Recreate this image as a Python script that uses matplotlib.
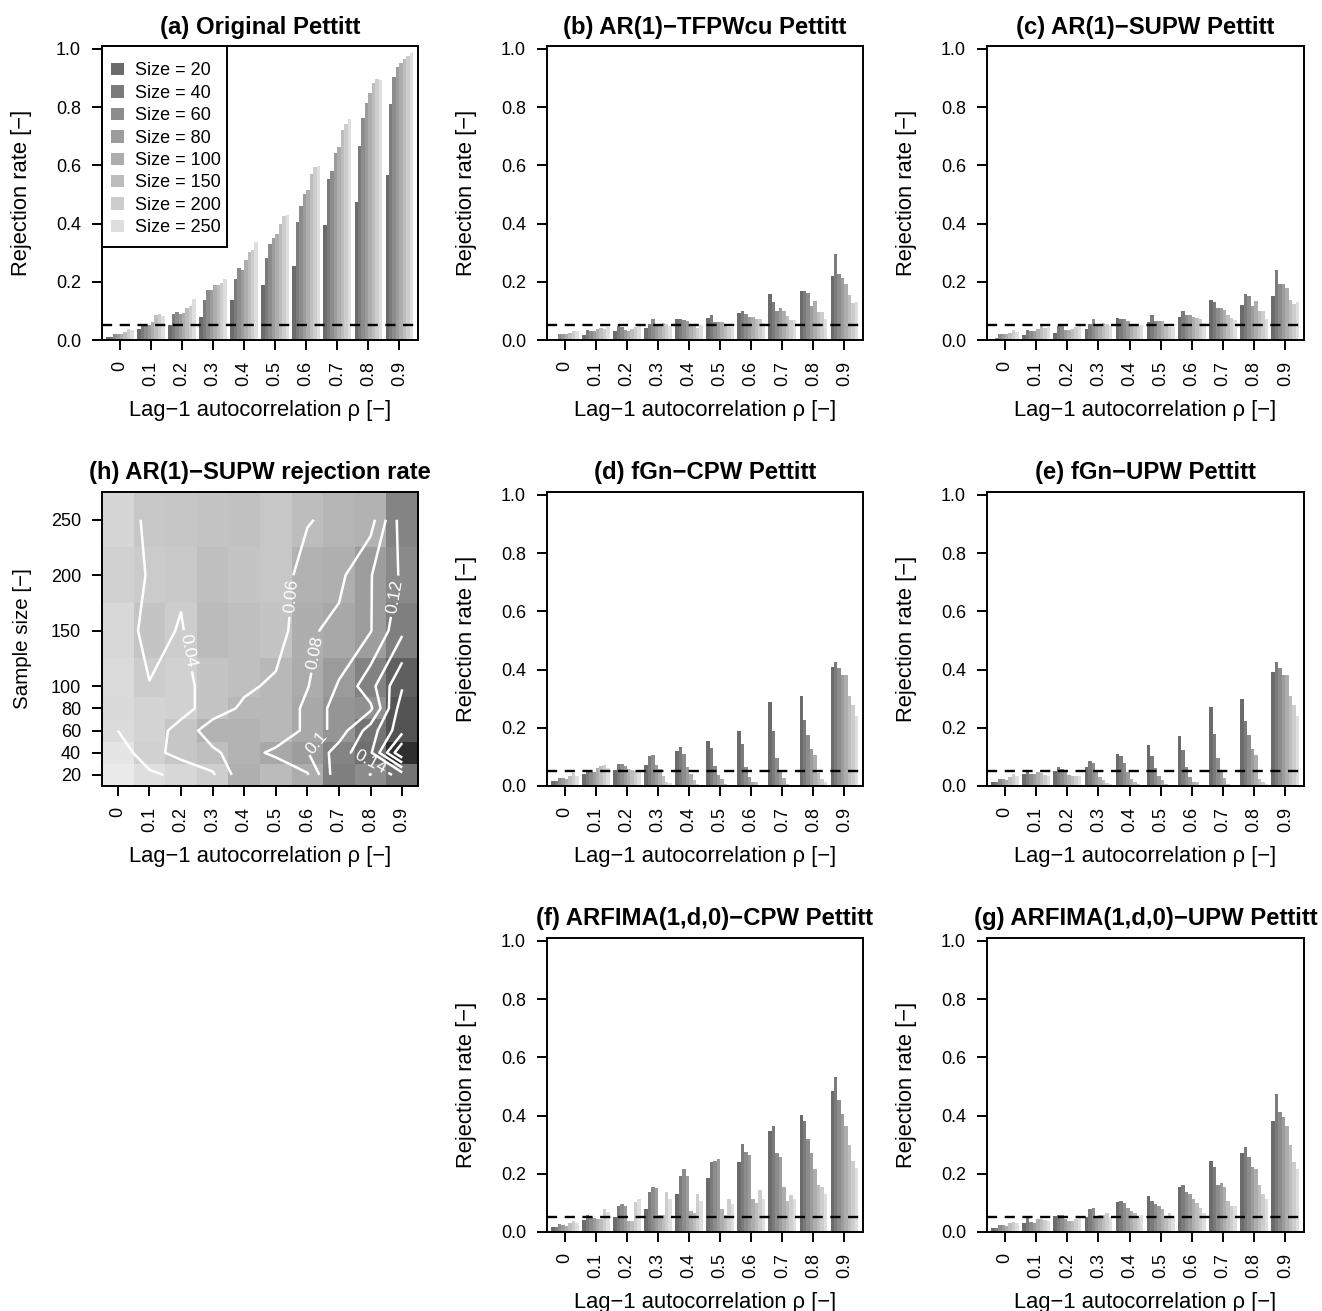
import numpy as np
import matplotlib
matplotlib.use("Agg")
import matplotlib.pyplot as plt
from matplotlib.patches import Patch, Rectangle
from matplotlib.colors import LinearSegmentedColormap

plt.rcParams['font.family'] = ['Liberation Sans', 'DejaVu Sans']

# ---------------- data ----------------
rho_values = [0.0, 0.1, 0.2, 0.3, 0.4, 0.5, 0.6, 0.7, 0.8, 0.9]
rho_labels = ["0", "0.1", "0.2", "0.3", "0.4", "0.5", "0.6", "0.7", "0.8", "0.9"]
sample_sizes = [20, 40, 60, 80, 100, 150, 200, 250]
size_labels = ["Size = %d" % s for s in sample_sizes]
y_ticks = [0.0, 0.2, 0.4, 0.6, 0.8, 1.0]
y_ticklabels = ["0.0", "0.2", "0.4", "0.6", "0.8", "1.0"]
alpha_level = 0.05
labeled_levels = [0.04, 0.06, 0.08, 0.10, 0.12, 0.14]
other_levels = [0.02, 0.16, 0.18, 0.20, 0.22]

# rejection rates: one row per rho, one column per sample size
orig_pettitt = [
    [0.012, 0.012, 0.022, 0.022, 0.022, 0.028, 0.038, 0.034],
    [0.037, 0.052, 0.050, 0.050, 0.062, 0.085, 0.090, 0.081],
    [0.052, 0.088, 0.096, 0.090, 0.093, 0.110, 0.116, 0.142],
    [0.079, 0.139, 0.171, 0.172, 0.188, 0.190, 0.197, 0.211],
    [0.136, 0.209, 0.249, 0.240, 0.276, 0.303, 0.308, 0.335],
    [0.188, 0.282, 0.331, 0.352, 0.364, 0.397, 0.427, 0.429],
    [0.253, 0.405, 0.460, 0.501, 0.515, 0.569, 0.595, 0.597],
    [0.394, 0.552, 0.580, 0.641, 0.664, 0.721, 0.741, 0.758],
    [0.474, 0.666, 0.761, 0.815, 0.847, 0.882, 0.896, 0.893],
    [0.566, 0.811, 0.903, 0.937, 0.953, 0.964, 0.976, 0.985],
]
ar1_tfpwcu = [
    [0.002, 0.005, 0.020, 0.022, 0.020, 0.024, 0.030, 0.030],
    [0.016, 0.033, 0.030, 0.030, 0.039, 0.041, 0.039, 0.045],
    [0.030, 0.047, 0.043, 0.036, 0.031, 0.039, 0.045, 0.047],
    [0.041, 0.056, 0.071, 0.049, 0.053, 0.060, 0.056, 0.049],
    [0.071, 0.071, 0.068, 0.064, 0.056, 0.056, 0.041, 0.053],
    [0.076, 0.085, 0.061, 0.061, 0.061, 0.049, 0.045, 0.045],
    [0.093, 0.099, 0.088, 0.079, 0.079, 0.071, 0.071, 0.057],
    [0.157, 0.130, 0.099, 0.109, 0.099, 0.081, 0.068, 0.068],
    [0.167, 0.167, 0.161, 0.116, 0.133, 0.095, 0.095, 0.072],
    [0.219, 0.295, 0.226, 0.212, 0.192, 0.154, 0.127, 0.130],
]
ar1_supw = [
    [0.001, 0.008, 0.020, 0.022, 0.020, 0.024, 0.033, 0.027],
    [0.016, 0.033, 0.030, 0.030, 0.039, 0.049, 0.041, 0.045],
    [0.025, 0.047, 0.047, 0.033, 0.033, 0.038, 0.044, 0.047],
    [0.037, 0.056, 0.071, 0.049, 0.049, 0.060, 0.056, 0.049],
    [0.075, 0.071, 0.071, 0.064, 0.056, 0.056, 0.049, 0.053],
    [0.061, 0.085, 0.064, 0.064, 0.064, 0.049, 0.045, 0.045],
    [0.078, 0.099, 0.085, 0.085, 0.079, 0.077, 0.072, 0.058],
    [0.136, 0.130, 0.109, 0.109, 0.102, 0.085, 0.075, 0.068],
    [0.119, 0.157, 0.150, 0.116, 0.133, 0.099, 0.099, 0.072],
    [0.150, 0.240, 0.194, 0.192, 0.178, 0.136, 0.123, 0.130],
]
fgn_cpw = [
    [0.017, 0.017, 0.027, 0.027, 0.023, 0.035, 0.046, 0.035],
    [0.041, 0.055, 0.049, 0.049, 0.061, 0.070, 0.072, 0.063],
    [0.055, 0.075, 0.075, 0.069, 0.057, 0.055, 0.051, 0.051],
    [0.072, 0.103, 0.106, 0.072, 0.058, 0.035, 0.015, 0.011],
    [0.120, 0.134, 0.110, 0.065, 0.042, 0.021, 0.008, 0.002],
    [0.154, 0.130, 0.069, 0.038, 0.024, 0.006, 0.001, 0.000],
    [0.189, 0.144, 0.065, 0.031, 0.014, 0.014, 0.001, 0.000],
    [0.288, 0.189, 0.096, 0.048, 0.027, 0.007, 0.000, 0.000],
    [0.309, 0.226, 0.175, 0.127, 0.106, 0.045, 0.024, 0.014],
    [0.408, 0.425, 0.405, 0.381, 0.381, 0.309, 0.278, 0.240],
]
fgn_upw = [
    [0.013, 0.013, 0.024, 0.024, 0.021, 0.030, 0.041, 0.034],
    [0.041, 0.051, 0.041, 0.041, 0.047, 0.045, 0.038, 0.035],
    [0.053, 0.065, 0.058, 0.048, 0.038, 0.034, 0.034, 0.035],
    [0.066, 0.086, 0.079, 0.051, 0.031, 0.021, 0.011, 0.007],
    [0.110, 0.103, 0.079, 0.048, 0.024, 0.013, 0.007, 0.001],
    [0.141, 0.103, 0.062, 0.034, 0.021, 0.007, 0.001, 0.000],
    [0.171, 0.123, 0.065, 0.031, 0.014, 0.014, 0.002, 0.000],
    [0.271, 0.178, 0.096, 0.048, 0.027, 0.007, 0.000, 0.000],
    [0.298, 0.223, 0.175, 0.127, 0.106, 0.024, 0.014, 0.007],
    [0.391, 0.425, 0.405, 0.381, 0.381, 0.309, 0.278, 0.240],
]
arfima_cpw = [
    [0.016, 0.016, 0.026, 0.023, 0.021, 0.030, 0.037, 0.030],
    [0.040, 0.057, 0.050, 0.047, 0.043, 0.043, 0.078, 0.067],
    [0.050, 0.088, 0.095, 0.088, 0.037, 0.037, 0.102, 0.115],
    [0.078, 0.139, 0.156, 0.150, 0.057, 0.060, 0.139, 0.115],
    [0.132, 0.194, 0.215, 0.191, 0.071, 0.064, 0.129, 0.105],
    [0.184, 0.239, 0.245, 0.252, 0.078, 0.057, 0.115, 0.095],
    [0.239, 0.304, 0.276, 0.266, 0.115, 0.098, 0.143, 0.115],
    [0.348, 0.365, 0.273, 0.259, 0.156, 0.108, 0.126, 0.112],
    [0.403, 0.382, 0.321, 0.273, 0.215, 0.163, 0.156, 0.129],
    [0.485, 0.533, 0.454, 0.406, 0.365, 0.300, 0.245, 0.221],
]
arfima_upw = [
    [0.013, 0.013, 0.023, 0.023, 0.019, 0.030, 0.033, 0.030],
    [0.030, 0.047, 0.033, 0.030, 0.043, 0.043, 0.040, 0.037],
    [0.054, 0.057, 0.057, 0.043, 0.037, 0.037, 0.043, 0.050],
    [0.050, 0.078, 0.081, 0.050, 0.057, 0.060, 0.064, 0.050],
    [0.102, 0.108, 0.098, 0.081, 0.071, 0.064, 0.050, 0.060],
    [0.122, 0.108, 0.095, 0.088, 0.078, 0.050, 0.064, 0.050],
    [0.153, 0.160, 0.136, 0.132, 0.115, 0.098, 0.081, 0.064],
    [0.245, 0.225, 0.163, 0.170, 0.156, 0.108, 0.091, 0.088],
    [0.273, 0.293, 0.256, 0.225, 0.215, 0.163, 0.132, 0.115],
    [0.382, 0.475, 0.413, 0.396, 0.365, 0.300, 0.239, 0.218],
]

# ---------------- style ----------------
W, H = 1322, 1311
fig = plt.figure(figsize=(W / 100, H / 100), dpi=100)
bar_grays = [str(v) for v in np.linspace(0.42, 0.87, len(sample_sizes))]
TICK_FS = 13
LAB_FS = 15.8
TITLE_FS = 17.2
XLABEL = "Lag\u22121 autocorrelation \u03c1 [\u2212]"


def add_ax(left, top, right, bottom):
    return fig.add_axes([left / W, 1 - bottom / H, (right - left) / W, (bottom - top) / H])


def style_axes(ax):
    for s in ax.spines.values():
        s.set_linewidth(1.4)
    ax.tick_params(direction='out', length=7.2, width=1.4, labelsize=TICK_FS, pad=8)


def bar_panel(ax, data, title, legend=False):
    data = np.asarray(data)
    n_g, n_s = data.shape
    step = n_s + 1
    for i in range(n_s):
        xs = np.arange(n_g) * step + i + 0.5
        ax.bar(xs, data[:, i], width=1.0, color=bar_grays[i], edgecolor='none',
               linewidth=0, label=size_labels[i])
    centers = np.arange(n_g) * step + n_s / 2
    ax.set_xlim(-1.2, (n_g - 1) * step + n_s + 1.4)
    ax.set_ylim(0, 1.01)
    ax.axhline(alpha_level, color='black', lw=1.7, ls=(0, (4.3, 3.2)))
    ax.set_xticks(centers)
    ax.set_xticklabels(rho_labels, rotation=90)
    ax.set_yticks(y_ticks)
    ax.set_yticklabels(y_ticklabels)
    style_axes(ax)
    ax.set_title(title, fontsize=TITLE_FS, fontweight='bold', pad=9)
    ax.set_ylabel("Rejection rate [\u2212]", fontsize=LAB_FS)
    ax.set_xlabel(XLABEL, fontsize=LAB_FS)
    ax.yaxis.set_label_coords(-0.22, 0.5)
    ax.xaxis.set_label_coords(0.5, -0.205)
    if legend:
        frame = Rectangle((0, 0.3163), 0.3956, 0.6837, transform=ax.transAxes,
                          facecolor='white', edgecolor='black', linewidth=1.4,
                          zorder=4, clip_on=False)
        ax.add_patch(frame)
        handles = [Patch(facecolor=bar_grays[i], edgecolor='none') for i in range(n_s)]
        leg = ax.legend(handles, size_labels, loc='upper left', fontsize=TICK_FS,
                        bbox_to_anchor=(0.0114, 0.9626), borderaxespad=0, frameon=False,
                        handlelength=0.72, handleheight=0.68, handletextpad=0.6,
                        labelspacing=0.3, borderpad=0.3)
        leg.set_zorder(5)


ax_a = add_ax(102, 46, 418, 340)
bar_panel(ax_a, orig_pettitt, "(a) Original Pettitt", legend=True)
ax_b = add_ax(547, 46, 863, 340)
bar_panel(ax_b, ar1_tfpwcu, "(b) AR(1)\u2212TFPWcu Pettitt")
ax_c = add_ax(987, 46, 1304, 340)
bar_panel(ax_c, ar1_supw, "(c) AR(1)\u2212SUPW Pettitt")
ax_d = add_ax(547, 492, 863, 786)
bar_panel(ax_d, fgn_cpw, "(d) fGn\u2212CPW Pettitt")
ax_e = add_ax(987, 492, 1304, 786)
bar_panel(ax_e, fgn_upw, "(e) fGn\u2212UPW Pettitt")
ax_f = add_ax(547, 938, 863, 1232)
bar_panel(ax_f, arfima_cpw, "(f) ARFIMA(1,d,0)\u2212CPW Pettitt")
ax_g = add_ax(987, 938, 1304, 1232)
bar_panel(ax_g, arfima_upw, "(g) ARFIMA(1,d,0)\u2212UPW Pettitt")

# ---------------- heatmap (h) ----------------
ax_h = add_ax(102, 492, 418, 786)
Z = np.asarray(ar1_supw).T  # rows: sample size, cols: rho
rv = np.asarray(rho_values)
sv = np.asarray(sample_sizes, dtype=float)


def edges(v):
    mid = (v[:-1] + v[1:]) / 2
    return np.concatenate([[v[0] - (mid[0] - v[0])], mid, [v[-1] + (v[-1] - mid[-1])]])


cmap = LinearSegmentedColormap.from_list("g", [(0.92, 0.92, 0.92), (0.18, 0.18, 0.18)])
ax_h.pcolormesh(edges(rv), edges(sv), Z, cmap=cmap, vmin=0, vmax=0.24, shading='flat')
ax_h.contour(rv, sv, Z, levels=other_levels, colors='white', linewidths=1.8)
cs = ax_h.contour(rv, sv, Z, levels=labeled_levels, colors='white', linewidths=1.8)


def fmt(v):
    s = "%.2f" % v
    return s.rstrip('0') if s.endswith('0') else s


label_pos = [(0.206, 131), (0.558, 181), (0.618, 131), (0.649, 45), (0.877, 181), (0.798, 31)]
try:
    ax_h.clabel(cs, inline=True, fmt=fmt, fontsize=12.5, colors='white',
                manual=label_pos, inline_spacing=4)
except Exception:
    ax_h.clabel(cs, inline=True, fmt=fmt, fontsize=12.5, colors='white', inline_spacing=4)
ax_h.set_xlim(edges(rv)[0], edges(rv)[-1])
ax_h.set_ylim(edges(sv)[0], edges(sv)[-1])
ax_h.set_xticks(rv)
ax_h.set_xticklabels(rho_labels, rotation=90)
ax_h.set_yticks(sv)
ax_h.set_yticklabels([str(s) for s in sample_sizes])
style_axes(ax_h)
ax_h.set_title("(h) AR(1)\u2212SUPW rejection rate", fontsize=TITLE_FS, fontweight='bold', pad=9)
ax_h.set_ylabel("Sample size [\u2212]", fontsize=14.8)
ax_h.set_xlabel(XLABEL, fontsize=LAB_FS)
ax_h.yaxis.set_label_coords(-0.22, 0.5)
ax_h.xaxis.set_label_coords(0.5, -0.205)

fig.savefig("out.png", dpi=100)
